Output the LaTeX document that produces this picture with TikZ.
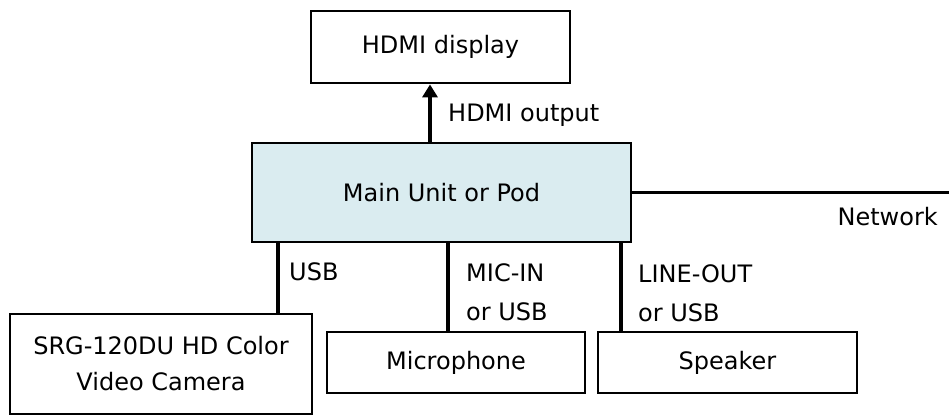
\documentclass[tikz,border=0pt]{standalone}
\usepackage{fontspec}
\setmainfont{DejaVu Sans}
\usetikzlibrary{arrows.meta}
\definecolor{unitblue}{HTML}{DAECF0}

\begin{document}
\begin{tikzpicture}[x=1pt,y=-1pt,
  box/.style={draw=black, line width=2.8pt, inner sep=0pt, align=center, font=\fontsize{24}{36}\selectfont},
  wire/.style={line width=3.4pt},
  lbl/.style={inner sep=0pt, anchor=west, align=left, font=\fontsize{24}{39}\selectfont}]
\useasboundingbox (0,0) rectangle (949,418);

% boxes
\node[box, minimum width=259, minimum height=72] (disp) at (440.5,47) {HDMI display};
\node[box, fill=unitblue, minimum width=379, minimum height=99] (main) at (441.5,192.5) {Main Unit or Pod};
\node[box, minimum width=302, minimum height=100] (cam) at (161,364) {SRG-120DU HD Color\\Video Camera};
\node[box, minimum width=258, minimum height=61] (mic) at (456,362.5) {Microphone};
\node[box, minimum width=259, minimum height=61] (spk) at (727.5,362.5) {Speaker};

% ports
\coordinate (hdmi) at (430,0);
\coordinate (usb) at (278,0);
\coordinate (micin) at (448,0);
\coordinate (lineout) at (621,0);
\coordinate (net) at (949,192.5);

\draw[wire, -{Triangle[length=13pt,width=15pt]}] (main.north -| hdmi) -- (disp.south -| hdmi);
\draw[wire] (main.south -| usb) -- (cam.north -| usb);
\draw[wire] (main.south -| micin) -- (mic.north -| micin);
\draw[wire] (main.south -| lineout) -- (spk.north -| lineout);
\draw[wire] (main.east) -- (net);

% labels
\node[lbl] (hdmilbl) at (448,115) {HDMI output};
\node[lbl] (usblbl) at (289,272) {USB};
\node[lbl] (miclbl) at (466,292) {MIC-IN\\or USB};
\node[lbl] (linelbl) at (638,293) {LINE-OUT\\or USB};
\node[lbl, anchor=east] (netlbl) at (938,217) {Network};
\end{tikzpicture}
\end{document}
